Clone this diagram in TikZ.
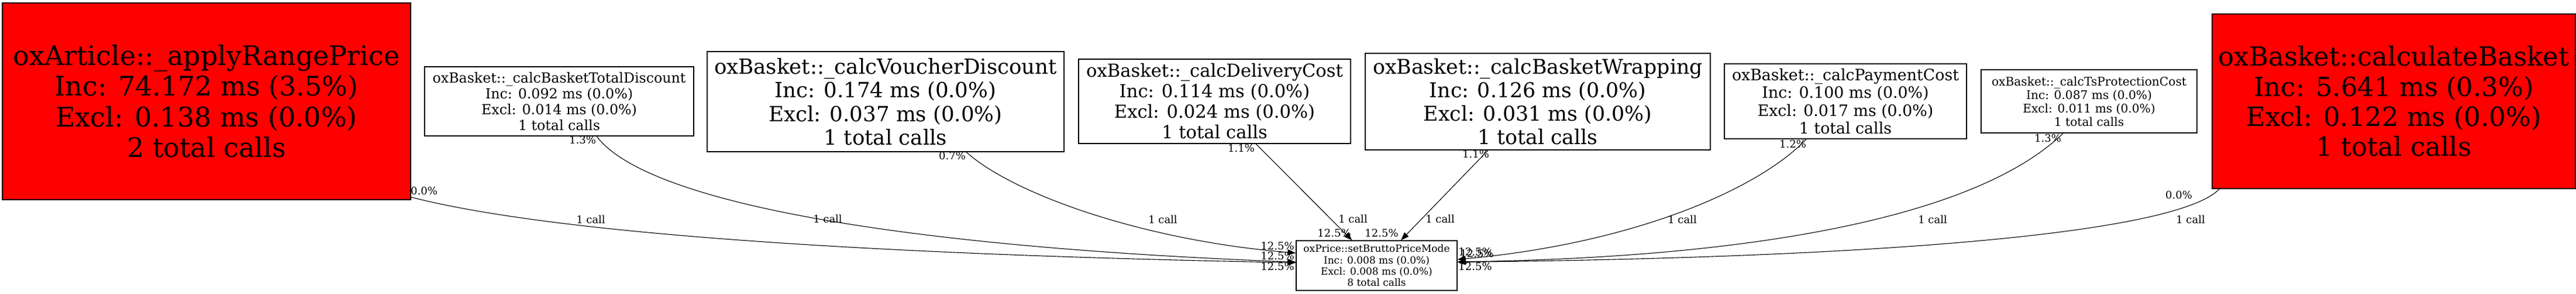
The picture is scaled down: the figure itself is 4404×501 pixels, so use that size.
\documentclass[tikz,border=0pt]{standalone}
\usepackage{fontspec}
\setmainfont{DejaVu Serif}
\usetikzlibrary{arrows.meta,calc}
\tikzset{
  fbox/.style={draw=black, line width=1.3pt, inner sep=0pt, align=center},
  hot/.style={fbox, fill=red},
  lbl/.style={inner sep=0pt, font=\fontsize{18}{20}\selectfont},
  callarrow/.style={draw=black, line width=1.1pt, -{Triangle[length=14pt,width=10pt]}},
}
\begin{document}
\begin{tikzpicture}[x=1pt,y=-1pt]
\useasboundingbox (0,0) rectangle (4404,501);
\fill[white] (0,0) rectangle (4404,501);

\node[hot, minimum width=698pt, minimum height=336pt, font=\fontsize{46}{52.5}\selectfont] (n1) at (353,173)
  {oxArticle::\_applyRangePrice\\Inc: 74.172 ms (3.5\%)\\Excl: 0.138 ms (0.0\%)\\2 total calls};
\node[fbox, minimum width=460pt, minimum height=118pt, font=\fontsize{23.7}{27}\selectfont] (n2) at (956,173)
  {oxBasket::\_calcBasketTotalDiscount\\Inc: 0.092 ms (0.0\%)\\Excl: 0.014 ms (0.0\%)\\1 total calls};
\node[fbox, minimum width=610pt, minimum height=171pt, font=\fontsize{35.6}{40.5}\selectfont] (n3) at (1514,173.5)
  {oxBasket::\_calcVoucherDiscount\\Inc: 0.174 ms (0.0\%)\\Excl: 0.037 ms (0.0\%)\\1 total calls};
\node[fbox, minimum width=465pt, minimum height=144pt, font=\fontsize{30.6}{35}\selectfont] (n4) at (2076.5,173)
  {oxBasket::\_calcDeliveryCost\\Inc: 0.114 ms (0.0\%)\\Excl: 0.024 ms (0.0\%)\\1 total calls};
\node[fbox, minimum width=590pt, minimum height=165pt, font=\fontsize{34.8}{39.7}\selectfont] (n5) at (2629,173.5)
  {oxBasket::\_calcBasketWrapping\\Inc: 0.126 ms (0.0\%)\\Excl: 0.031 ms (0.0\%)\\1 total calls};
\node[fbox, minimum width=414pt, minimum height=128pt, font=\fontsize{26.8}{30.5}\selectfont] (n6) at (3155,173)
  {oxBasket::\_calcPaymentCost\\Inc: 0.100 ms (0.0\%)\\Excl: 0.017 ms (0.0\%)\\1 total calls};
\node[fbox, minimum width=369pt, minimum height=108pt, font=\fontsize{20.2}{23}\selectfont] (n7) at (3571.5,173)
  {oxBasket::\_calcTsProtectionCost\\Inc: 0.087 ms (0.0\%)\\Excl: 0.011 ms (0.0\%)\\1 total calls};
\node[hot, minimum width=621pt, minimum height=298pt, font=\fontsize{45}{51.3}\selectfont] (n8) at (4092.5,173)
  {oxBasket::calculateBasket\\Inc: 5.641 ms (0.3\%)\\Excl: 0.122 ms (0.0\%)\\1 total calls};
\node[fbox, minimum width=275pt, minimum height=85pt, font=\fontsize{17}{19.4}\selectfont] (t) at (2353.5,453.5)
  {oxPrice::setBruttoPriceMode\\Inc: 0.008 ms (0.0\%)\\Excl: 0.008 ms (0.0\%)\\8 total calls};

% connectors
\draw[callarrow] ($(n1.south east)+(0,-5)$) .. controls (950,400) and (1500,435) .. ($(t.west)+(0,-5)$);
\draw[callarrow] ($(n2.south)+(64,0)$) .. controls (1100,340) and (1500,420) .. ($(t.west)+(0,-6)$);
\draw[callarrow] ($(n3.south)+(138,0)$) .. controls (1730,330) and (1950,410) .. ($(t.west)+(0,-21.5)$);
\draw[callarrow] ($(n4.south)+(70.5,0)$) -- ($(t.north)+(-42,0)$);
\draw[callarrow] ($(n5.south)+(-85,0)$) -- ($(t.north)+(41.5,0)$);
\draw[callarrow] ($(n6.south)+(-67,0)$) .. controls (3010,320) and (2800,415) .. ($(t.east)+(0,-10.5)$);
\draw[callarrow] ($(n7.south)+(-44.5,0)$) .. controls (3380,370) and (3000,440) .. ($(t.east)+(0,-6.5)$);
\draw[callarrow] ($(n8.south west)+(13,0)$) .. controls (3720,400) and (3200,440) .. ($(t.east)+(0,-6)$);

% call labels
\node[lbl] (c1) at (1010,375) {1 call};
\node[lbl] (c2) at (1415,374) {1 call};
\node[lbl] (c3) at (1988,375) {1 call};
\node[lbl] (c4) at (2313,374) {1 call};
\node[lbl] (c5) at (2462,374) {1 call};
\node[lbl] (c6) at (2876,375) {1 call};
\node[lbl] (c7) at (3304,375) {1 call};
\node[lbl] (c8) at (3745,375) {1 call};

% tail labels
\node[lbl] (p1) at (725,326) {0.0\%};
\node[lbl] (p2) at (996,239) {1.3\%};
\node[lbl] (p3) at (1628,266) {0.7\%};
\node[lbl] (p4) at (2122,253) {1.1\%};
\node[lbl] (p5) at (2523,263) {1.1\%};
\node[lbl] (p6) at (3065,246) {1.2\%};
\node[lbl] (p7) at (3501,236) {1.3\%};
\node[lbl] (p8) at (3725,333) {0.0\%};

% head labels
\node[lbl] (h1) at (2184,455) {12.5\%};
\node[lbl] (h2) at (2184,437) {12.5\%};
\node[lbl] (h3) at (2184,420) {12.5\%};
\node[lbl] (h4) at (2281,398) {12.5\%};
\node[lbl] (h5) at (2362,398) {12.5\%};
\node[lbl] (h6) at (2522,430) {12.5\%};
\node[lbl] (h7) at (2525,433) {12.5\%};
\node[lbl] (h8) at (2522,455) {12.5\%};
\end{tikzpicture}
\end{document}
